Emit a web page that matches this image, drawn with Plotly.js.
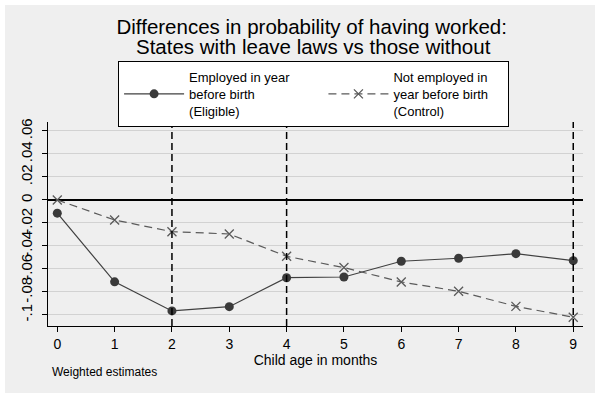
<!DOCTYPE html>
<html>
<head>
<meta charset="utf-8">
<script src="https://cdn.plot.ly/plotly-3.0.1.min.js"></script>
<style>
  html, body { margin: 0; padding: 0; background: #fff; }
  #graph { width: 603px; height: 400px; }
</style>
</head>
<body>
<div id="graph"></div>
<script>
// child age in months
var months = [0, 1, 2, 3, 4, 5, 6, 7, 8, 9];

// employed in year before birth (eligible)
var eligible = [-0.0115, -0.0712, -0.0965, -0.0928, -0.0676, -0.0670, -0.0533, -0.0507, -0.0467, -0.0528];

// not employed in year before birth (control)
var control = [0.0000, -0.0174, -0.0276, -0.0296, -0.0490, -0.0588, -0.0713, -0.0794, -0.0925, -0.1020];

var yTickVals = [0.06, 0.04, 0.02, 0, -0.02, -0.04, -0.06, -0.08, -0.1];
var yTickText = ['.06', '.04', '.02', '0', '-.02', '-.04', '-.06', '-.08', '-.1'];

// months with vertical reference lines
var refMonths = [2, 4, 9];

var font = 'Arial, "Liberation Sans", Helvetica, sans-serif';
var pad8 = '&nbsp;&nbsp;&nbsp;&nbsp;&nbsp;&nbsp;&nbsp;&nbsp;';
var pad4 = '&nbsp;&nbsp;&nbsp;&nbsp;';

var traceEligible = {
  x: months,
  y: eligible,
  name: 'Employed in year' + pad8 + '<br>before birth<br>(Eligible)',
  type: 'scatter',
  mode: 'lines+markers',
  line: {color: '#404040', width: 1.2},
  marker: {symbol: 'circle', color: '#3a3a3a', size: 9}
};

var traceControl = {
  x: months,
  y: control,
  name: 'Not employed in<br>year before birth' + pad4 + '<br>(Control)',
  type: 'scatter',
  mode: 'lines+markers',
  line: {color: '#5a5a5a', width: 1.2, dash: '8px,5px'},
  marker: {symbol: 'x-thin-open', size: 9, line: {color: '#404040', width: 1.3}}
};

var shapes = [
  // grey outer frame
  {type: 'rect', xref: 'paper', yref: 'paper', layer: 'below',
   x0: -0.0804, x1: 1.0224, y0: -0.3284, y1: 1.5735,
   fillcolor: '#efefef', line: {width: 0}}
];
refMonths.forEach(function (m) {
  shapes.push({type: 'line', xref: 'x', yref: 'paper', x0: m, x1: m, y0: 0, y1: 1,
               line: {color: '#000', width: 1.5, dash: '7px,4px'}});
});

var layout = {
  width: 603,
  height: 400,
  margin: {l: 48, r: 20, t: 122, b: 74},
  paper_bgcolor: '#ffffff',
  plot_bgcolor: '#ffffff',
  font: {family: font, color: '#000'},
  title: {
    text: 'Differences in probability of having worked:',
    font: {size: 20.5, color: '#000', family: font},
    xref: 'container', x: 0.517, xanchor: 'center',
    yref: 'container', y: 0.932, yanchor: 'middle'
  },
  xaxis: {
    range: [-0.162, 9.17],
    tickvals: months,
    ticks: 'outside', ticklen: 5, tickcolor: '#000',
    showline: true, linecolor: '#000', linewidth: 1,
    showgrid: false, zeroline: false,
    tickfont: {size: 14, color: '#000'},
    automargin: true,
    title: {text: 'Child age in months', font: {size: 14, color: '#000'}, standoff: 0}
  },
  yaxis: {
    range: [-0.1096, 0.0678],
    tickvals: yTickVals,
    ticktext: yTickText,
    tickangle: -90,
    ticks: 'outside', ticklen: 5, tickcolor: '#000',
    showline: true, linecolor: '#000', linewidth: 1,
    showgrid: true, gridcolor: '#d2d2d2', gridwidth: 1,
    zeroline: true, zerolinecolor: '#000', zerolinewidth: 1.5,
    tickfont: {size: 15, color: '#000'},
    ticklabelstandoff: 4
  },
  showlegend: true,
  legend: {
    orientation: 'h',
    xref: 'paper', yref: 'paper',
    x: 0.131, xanchor: 'left',
    y: 1.299, yanchor: 'top',
    bgcolor: '#ffffff',
    bordercolor: '#000', borderwidth: 1,
    font: {size: 13, color: '#000'},
    itemwidth: 60,
    valign: 'middle'
  },
  shapes: shapes,
  annotations: [
    {text: 'States with leave laws vs those without', xref: 'paper', yref: 'paper',
     x: 0.497, y: 1.368, xanchor: 'center', yanchor: 'middle',
     showarrow: false, font: {size: 20.5, color: '#000'}},
    {text: 'Weighted estimates', xref: 'paper', yref: 'paper',
     x: 0.004, y: -0.225, xanchor: 'left', yanchor: 'middle',
     showarrow: false, font: {size: 12, color: '#000'}}
  ]
};

Plotly.newPlot('graph', [traceEligible, traceControl], layout, {displayModeBar: false, staticPlot: true});
</script>
</body>
</html>
